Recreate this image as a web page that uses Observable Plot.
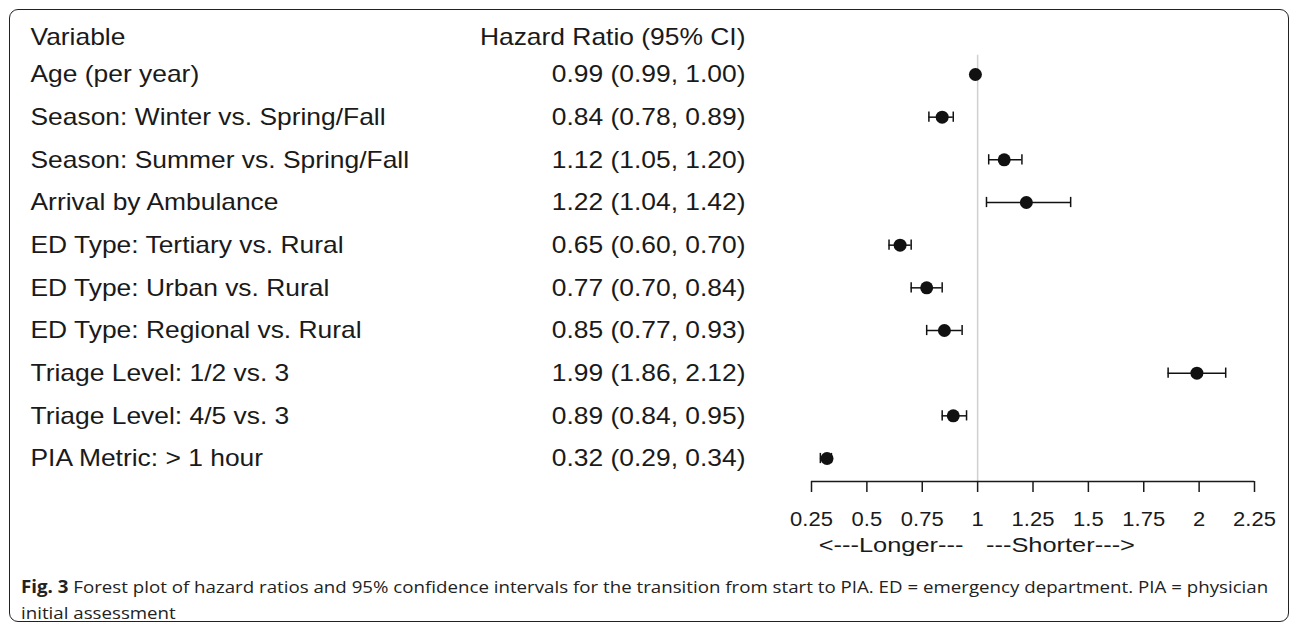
<!DOCTYPE html>
<html>
<head>
<meta charset="utf-8">
<script src="https://cdn.jsdelivr.net/npm/d3@7"></script>
<script src="https://cdn.jsdelivr.net/npm/@observablehq/plot@0.6"></script>
<style>
  html, body { margin: 0; padding: 0; background: #fff; }
  body { width: 1292px; height: 626px; position: relative; overflow: hidden; }
  #frame { position: absolute; left: 9px; top: 9px; width: 1280px; height: 613px;
           border: 1.5px solid #222; border-radius: 9px; box-sizing: border-box; }
  #chart { position: absolute; left: 0; top: 0; }
  #caption { position: absolute; left: 21px; top: 574px;
             font-family: "Open Sans", sans-serif; font-size: 17px; line-height: 26px; color: #222;
             white-space: nowrap; transform: scaleX(1.1); transform-origin: 0 0; }
  #caption b { font-weight: 700; }
</style>
</head>
<body>
<div id="frame"></div>
<div id="chart"></div>
<div id="caption"><b>Fig. 3</b> Forest plot of hazard ratios and 95% confidence intervals for the transition from start to PIA. ED = emergency department. PIA = physician<br>initial assessment</div>
<script>
const variables = [
  "Age (per year)",
  "Season: Winter vs. Spring/Fall",
  "Season: Summer vs. Spring/Fall",
  "Arrival by Ambulance",
  "ED Type: Tertiary vs. Rural",
  "ED Type: Urban vs. Rural",
  "ED Type: Regional vs. Rural",
  "Triage Level: 1/2 vs. 3",
  "Triage Level: 4/5 vs. 3",
  "PIA Metric: > 1 hour"
];
const hr    = [0.99, 0.84, 1.12, 1.22, 0.65, 0.77, 0.85, 1.99, 0.89, 0.32];
const lower = [0.99, 0.78, 1.05, 1.04, 0.60, 0.70, 0.77, 1.86, 0.84, 0.29];
const upper = [1.00, 0.89, 1.20, 1.42, 0.70, 0.84, 0.93, 2.12, 0.95, 0.34];
const xTicks = [0.25, 0.5, 0.75, 1, 1.25, 1.5, 1.75, 2, 2.25];
const headerVariable = "Variable";
const headerHR = "Hazard Ratio (95% CI)";
const directionLabels = ["<---Longer---", "---Shorter--->"];

const fmt = d3.format(".2f");
const data = variables.map((v, i) => ({
  i, variable: v, hr: hr[i], lo: lower[i], hi: upper[i],
  label: `${fmt(hr[i])} (${fmt(lower[i])}, ${fmt(upper[i])})`
}));

const FONT = "'Liberation Sans', Arial, Helvetica, sans-serif";
const axisRow = 9.54;     // axis line position, in row units
const headerRow = -0.87;
const capHalf = 0.12;

const chart = Plot.plot({
  width: 1292,
  height: 560,
  marginLeft: 811,
  marginRight: 38,
  marginTop: 0,
  marginBottom: 79,
  style: { fontFamily: FONT, color: "#1a1a1a", background: "transparent", overflow: "visible" },
  x: { domain: [0.25, 2.25] },
  y: { type: "linear", domain: [0, 9], range: [74, 458], axis: null },
  marks: [
    Plot.ruleX([1], { y1: -0.45, y2: axisRow, stroke: "#d0d0d0", strokeWidth: 1.5 }),
    Plot.ruleY([axisRow], { x1: 0.25, x2: 2.25, stroke: "#1a1a1a", strokeWidth: 1.5 }),
    Plot.axisX({ ticks: xTicks, tickFormat: d => String(d), tickSize: 11, tickPadding: 19,
                 strokeWidth: 1.5, fontSize: 20, label: null }),
    Plot.text([headerVariable], { frameAnchor: "left", y: () => headerRow, dx: -781, textAnchor: "start", fontSize: 24, fill: "#1a1a1a" }),
    Plot.text([headerHR], { frameAnchor: "left", y: () => headerRow, dx: -66, textAnchor: "end", fontSize: 24, fill: "#1a1a1a" }),
    Plot.text(data, { frameAnchor: "left", y: "i", text: "variable", dx: -781, textAnchor: "start", fontSize: 24, fill: "#1a1a1a" }),
    Plot.text(data, { frameAnchor: "left", y: "i", text: "label", dx: -66, textAnchor: "end", fontSize: 24, fill: "#1a1a1a" }),
    Plot.ruleY(data, { y: "i", x1: "lo", x2: "hi", stroke: "#111", strokeWidth: 1.5 }),
    Plot.ruleX(data, { x: "lo", y1: d => d.i - capHalf, y2: d => d.i + capHalf, stroke: "#111", strokeWidth: 1.5 }),
    Plot.ruleX(data, { x: "hi", y1: d => d.i - capHalf, y2: d => d.i + capHalf, stroke: "#111", strokeWidth: 1.5 }),
    Plot.dot(data, { x: "hr", y: "i", r: 6.5, fill: "#111", stroke: "none" }),
    Plot.text([directionLabels[0]], { x: () => 0.609, y: () => 11.04, fontSize: 21, fill: "#1a1a1a" }),
    Plot.text([directionLabels[1]], { x: () => 1.374, y: () => 11.04, fontSize: 21, fill: "#1a1a1a" })
  ]
});
document.getElementById("chart").appendChild(chart);

// widen glyphs horizontally like the reference rendering
chart.querySelectorAll("text").forEach(t => {
  const w = t.getComputedTextLength();
  if (!w) return;
  const k = directionLabels.includes(t.textContent) ? 1.21 : 1.1;
  t.setAttribute("textLength", (w * k).toFixed(1));
  t.setAttribute("lengthAdjust", "spacingAndGlyphs");
});
</script>
</body>
</html>
